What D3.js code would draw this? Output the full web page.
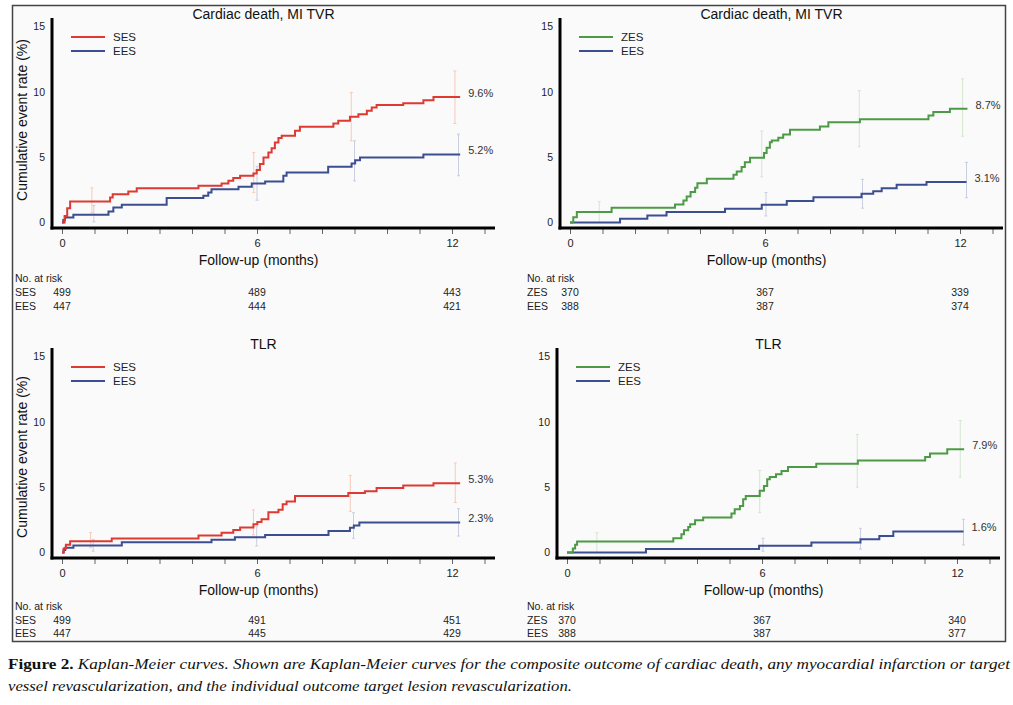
<!DOCTYPE html>
<html>
<head>
  <meta charset="utf-8">
  <title>Kaplan-Meier curves</title>
  <style>
    body {
      margin: 0;
      background: #fff;
      font-family: "Liberation Sans", Arial, sans-serif;
    }
    .tick text { font-size: 10.5px; fill: #222; font-family: "Liberation Sans", Arial, sans-serif; }
    .tick line { stroke: #666; }
    .title { font-size: 14px; fill: #111; text-anchor: middle; }
    .axis-label { font-size: 14px; fill: #111; text-anchor: middle; }
    .legend { font-size: 11.5px; fill: #222; }
    .end-label { font-size: 11px; fill: #333; }
    .risk { font-size: 10.5px; fill: #222; }
    .caption { font-family: "Liberation Serif", "Times New Roman", serif; font-size: 15px; fill: #111; }
  </style>
  <script src="https://d3js.org/d3.v7.min.js"></script>
</head>
<body>
  <svg id="fig" width="1013" height="705"></svg>
  <script>
    // Tick labels and titles
    const xTicks = [0, 6, 12];
    const yTicks = [0, 5, 10, 15];
    const titles = ["Cardiac death, MI TVR", "Cardiac death, MI TVR", "TLR", "TLR"];

    // Kaplan-Meier steps: [month, cumulative %]; last entry is the end of follow-up
    const sesMace = [[0,0],[0.08,0.5],[0.16,1.1],[0.25,1.61],[1.48,1.91],[1.56,2.17],[2.04,2.37],[2.3,2.63],[4.2,2.81],[4.91,2.98],[5.12,3.19],[5.27,3.4],[5.48,3.57],[5.89,3.75],[5.99,4.01],[6.09,4.47],[6.2,4.97],[6.35,5.36],[6.45,5.69],[6.55,6.12],[6.66,6.46],[6.76,6.63],[7.17,7.02],[7.32,7.32],[8.35,7.58],[8.5,7.78],[8.86,8.09],[9.12,8.29],[9.38,8.55],[9.53,8.8],[9.68,9.0],[10.5,9.13],[11.12,9.36],[11.43,9.6],[12.25,9.6]];
    const eesMaceA = [[0,0],[0.04,0.2],[0.09,0.38],[0.35,0.59],[1.43,0.84],[1.58,1.15],[1.84,1.35],[3.22,1.87],[4.35,2.04],[4.5,2.3],[4.6,2.55],[5.43,2.73],[5.84,2.98],[6.25,3.14],[6.81,3.57],[6.91,3.83],[8.19,4.26],[8.91,4.51],[9.02,4.77],[9.17,4.97],[11.12,5.2],[12.25,5.2]];
    const zesMace = [[0,0],[0.1,0.41],[0.21,0.8],[1.28,1.13],[3.23,1.38],[3.49,1.69],[3.59,1.99],[3.71,2.33],[3.85,2.66],[3.92,3.01],[4.21,3.35],[5.03,3.66],[5.13,3.91],[5.28,4.24],[5.38,4.62],[5.54,4.96],[5.97,5.31],[6.05,5.72],[6.15,6.15],[6.21,6.28],[6.41,6.49],[6.56,6.74],[6.77,7.1],[7.69,7.35],[7.95,7.68],[8.92,7.91],[11.03,8.19],[11.18,8.45],[11.69,8.7],[12.23,8.7]];
    const eesMaceB = [[0,0],[1.54,0.29],[2.38,0.54],[2.97,0.8],[4.77,1.05],[5.9,1.36],[6.67,1.64],[7.49,1.94],[8.97,2.2],[9.33,2.4],[9.59,2.63],[10.05,2.89],[10.97,3.1],[12.2,3.1]];
    const sesTlr = [[0,0],[0.05,0.3],[0.12,0.6],[0.25,0.87],[1.53,1.08],[4.2,1.3],[4.91,1.52],[5.27,1.73],[5.48,1.92],[5.89,2.17],[6.01,2.34],[6.14,2.54],[6.35,3.08],[6.66,3.28],[6.79,3.7],[6.91,3.9],[7.17,4.32],[8.81,4.56],[9.32,4.68],[9.68,4.94],[10.5,5.13],[11.43,5.3],[12.25,5.3]];
    const eesTlrA = [[0,0],[0.05,0.2],[0.1,0.36],[0.35,0.54],[1.84,0.78],[4.6,0.97],[5.32,1.16],[6.25,1.33],[8.2,1.65],[8.86,1.9],[8.98,2.07],[9.15,2.3],[12.25,2.3]];
    const zesTlr = [[0,0],[0.18,0.3],[0.25,0.6],[0.31,0.84],[3.27,1.09],[3.52,1.4],[3.6,1.7],[3.73,1.96],[3.79,2.16],[3.94,2.47],[4.19,2.67],[5.06,2.98],[5.16,3.31],[5.32,3.56],[5.42,4.07],[5.5,4.33],[5.93,4.72],[6.06,5.09],[6.16,5.6],[6.24,5.78],[6.43,5.98],[6.6,6.23],[6.8,6.54],[7.67,6.79],[8.95,7.05],[11.02,7.3],[11.17,7.58],[11.7,7.9],[12.22,7.9]];
    const eesTlrB = [[0,0],[2.43,0.26],[5.91,0.51],[7.52,0.76],[9.03,1.02],[9.61,1.27],[10.04,1.6],[12.2,1.6]];

    // 95% CI bars: [month, low, high]
    const sesMaceCI = [[0.92,0.74,2.65],[5.9,2.3,5.35],[8.9,6.25,9.95],[12.09,7.58,11.6]];
    const eesMaceACI = [[0.98,0.05,1.3],[6.0,1.71,4.3],[9.0,3.19,6.25],[12.2,3.58,6.76]];
    const zesMaceCI = [[0.9,0,1.6],[5.9,3.5,7.0],[8.9,5.8,10.1],[12.08,6.6,11.0]];
    const eesMaceBCI = [[6.03,0.5,2.3],[9.0,1.1,3.3],[12.2,1.9,4.6]];
    const sesTlrCI = [[0.88,0.37,1.52],[5.89,1.35,3.26],[8.87,3.15,5.9],[12.1,3.82,6.85]];
    const eesTlrACI = [[0.96,0.1,1.0],[5.99,0.5,2.0],[8.97,1.09,3.04],[12.2,1.26,3.35]];
    const zesTlrCI = [[0.92,0,1.52],[5.93,3.05,6.28],[8.93,5.0,9.03],[12.1,5.77,10.1]];
    const eesTlrBCI = [[6.03,0.1,1.09],[9.03,0.26,1.85],[12.2,0.58,2.54]];

    // Final event rates printed at the end of each curve
    const endMace = [9.6, 5.2, 8.7, 3.1];
    const endTlr = [5.3, 2.3, 7.9, 1.6];

    // Numbers at risk at 0, 6 and 12 months
    const riskSesMace = [499, 489, 443];
    const riskEesMaceA = [447, 444, 421];
    const riskZesMace = [370, 367, 339];
    const riskEesMaceB = [388, 387, 374];
    const riskSesTlr = [499, 491, 451];
    const riskEesTlrA = [447, 445, 429];
    const riskZesTlr = [370, 367, 340];
    const riskEesTlrB = [388, 387, 377];

    const RED = "#de3a32", BLUE = "#3c4e92", GREEN = "#4c9a45";
    const RED_CI = "#f6c9b8", BLUE_CI = "#c9cee0", GREEN_CI = "#d3e6cf";

    const panels = [
      { ox: 0, oy: 0, title: titles[0], yLabelY: 120, tableX: 15, tableDy: 0, series: [
        { name: "SES", data: sesMace, ci: sesMaceCI, color: RED, ciColor: RED_CI, end: endMace[0], risk: riskSesMace },
        { name: "EES", data: eesMaceA, ci: eesMaceACI, color: BLUE, ciColor: BLUE_CI, end: endMace[1], risk: riskEesMaceA }] },
      { ox: 508, oy: 0, title: titles[1], yLabelY: null, tableX: 527, tableDy: 0, series: [
        { name: "ZES", data: zesMace, ci: zesMaceCI, color: GREEN, ciColor: GREEN_CI, end: endMace[2], risk: riskZesMace },
        { name: "EES", data: eesMaceB, ci: eesMaceBCI, color: BLUE, ciColor: BLUE_CI, end: endMace[3], risk: riskEesMaceB }] },
      { ox: 0, oy: 330, title: titles[2], yLabelY: 127, tableX: 15, tableDy: -2.5, series: [
        { name: "SES", data: sesTlr, ci: sesTlrCI, color: RED, ciColor: RED_CI, end: endTlr[0], risk: riskSesTlr },
        { name: "EES", data: eesTlrA, ci: eesTlrACI, color: BLUE, ciColor: BLUE_CI, end: endTlr[1], risk: riskEesTlrA }] },
      { ox: 505, oy: 330, title: titles[3], yLabelY: null, tableX: 527, tableDy: -2.5, series: [
        { name: "ZES", data: zesTlr, ci: zesTlrCI, color: GREEN, ciColor: GREEN_CI, end: endTlr[2], risk: riskZesTlr },
        { name: "EES", data: eesTlrB, ci: eesTlrBCI, color: BLUE, ciColor: BLUE_CI, end: endTlr[3], risk: riskEesTlrB }] }
    ];

    const svg = d3.select("#fig");

    // Figure frame
    svg.append("rect")
      .attr("x", 12.5).attr("y", 5.5)
      .attr("width", 993).attr("height", 636)
      .attr("fill", "#fafafa")
      .attr("stroke", "#444")
      .attr("stroke-width", 1.5);

    // Panel geometry (local coordinates)
    const axisX = 52, axisY = 228, axisRight = 495, axisTop = 18;
    const x = d3.scaleLinear().domain([0, 13]).range([62, 62 + 13 * 32.5]);
    const y = d3.scaleLinear().domain([0, 15]).range([222.5, 26.5]);

    const line = d3.line()
      .x(d => x(d[0]))
      .y(d => y(d[1]))
      .curve(d3.curveStepAfter);

    panels.forEach(p => {
      const g = svg.append("g").attr("transform", `translate(${p.ox},${p.oy})`);

      // Title
      g.append("text")
        .attr("class", "title")
        .attr("x", x(6.2))
        .attr("y", 19)
        .text(p.title);

      // CI bars (drawn first, behind the curves)
      p.series.forEach(s => {
        const bars = g.append("g").attr("stroke", s.ciColor).attr("stroke-width", 1);
        s.ci.forEach(c => {
          bars.append("line").attr("x1", x(c[0])).attr("x2", x(c[0])).attr("y1", y(c[1])).attr("y2", y(c[2]));
          bars.append("line").attr("x1", x(c[0]) - 1.5).attr("x2", x(c[0]) + 1.5).attr("y1", y(c[1])).attr("y2", y(c[1]));
          bars.append("line").attr("x1", x(c[0]) - 1.5).attr("x2", x(c[0]) + 1.5).attr("y1", y(c[2])).attr("y2", y(c[2]));
        });
      });

      // Curves, blue one under the coloured one
      p.series.slice().reverse().forEach(s => {
        g.append("path")
          .datum(s.data)
          .attr("fill", "none")
          .attr("stroke", s.color)
          .attr("stroke-width", 2)
          .attr("d", line);
      });

      // End labels
      p.series.forEach(s => {
        const last = s.data[s.data.length - 1];
        g.append("text")
          .attr("class", "end-label")
          .attr("x", x(last[0]) + 8)
          .attr("y", y(s.end) - 4)
          .attr("dy", "0.35em")
          .text(`${s.end}%`);
      });

      // Axes
      const xAxis = g.append("g")
        .attr("transform", `translate(0,${axisY + 1})`)
        .call(d3.axisBottom(x).tickValues(d3.range(0, 14)).tickSize(5).tickPadding(5)
          .tickFormat(d => xTicks.includes(d) ? d : ""));
      xAxis.select(".domain").remove();
      xAxis.selectAll(".tick text").style("font-size", "11px");

      const yAxis = g.append("g")
        .attr("transform", `translate(${axisX},0)`)
        .call(d3.axisLeft(y).tickValues(yTicks).tickSize(0).tickPadding(7));
      yAxis.select(".domain").remove();

      g.append("line")
        .attr("x1", axisX).attr("x2", axisX)
        .attr("y1", axisTop).attr("y2", axisY + 1.5)
        .attr("stroke", "#000").attr("stroke-width", 3);
      g.append("line")
        .attr("x1", axisX - 1.5).attr("x2", axisRight)
        .attr("y1", axisY).attr("y2", axisY)
        .attr("stroke", "#000").attr("stroke-width", 3);

      // Axis labels
      g.append("text")
        .attr("class", "axis-label")
        .attr("x", x(6.05))
        .attr("y", 265)
        .text("Follow-up (months)");

      if (p.yLabelY !== null) {
        g.append("text")
          .attr("class", "axis-label")
          .attr("transform", `translate(27,${p.yLabelY}) rotate(-90)`)
          .text("Cumulative event rate (%)");
      }

      // Legend
      p.series.forEach((s, i) => {
        const ly = 37 + i * 14;
        g.append("line")
          .attr("x1", axisX + 19).attr("x2", axisX + 53)
          .attr("y1", ly).attr("y2", ly)
          .attr("stroke", s.color).attr("stroke-width", 2);
        g.append("text")
          .attr("class", "legend")
          .attr("x", axisX + 61)
          .attr("y", ly + 4)
          .text(s.name);
      });

      // Numbers at risk
      const tx = p.tableX - p.ox;
      g.append("text")
        .attr("class", "risk")
        .attr("x", tx)
        .attr("y", 282 + p.tableDy)
        .text("No. at risk");
      p.series.forEach((s, i) => {
        const ry = 296 + i * 13.5 + p.tableDy;
        g.append("text").attr("class", "risk").attr("x", tx).attr("y", ry).text(s.name);
        g.selectAll(null)
          .data(s.risk)
          .enter().append("text")
          .attr("class", "risk")
          .attr("x", (d, j) => x(xTicks[j]))
          .attr("y", ry)
          .attr("text-anchor", "middle")
          .text(d => d);
      });
    });

    // Caption
    const cap1 = svg.append("text")
      .attr("class", "caption")
      .attr("x", 8).attr("y", 669)
      .attr("textLength", 1002)
      .attr("lengthAdjust", "spacingAndGlyphs");
    cap1.append("tspan").attr("font-weight", "bold").text("Figure 2. ");
    cap1.append("tspan").attr("font-style", "italic")
      .text("Kaplan-Meier curves. Shown are Kaplan-Meier curves for the composite outcome of cardiac death, any myocardial infarction or target");

    svg.append("text")
      .attr("class", "caption")
      .attr("x", 8).attr("y", 691)
      .attr("font-style", "italic")
      .attr("textLength", 564)
      .attr("lengthAdjust", "spacingAndGlyphs")
      .text("vessel revascularization, and the individual outcome target lesion revascularization.");
  </script>
</body>
</html>
